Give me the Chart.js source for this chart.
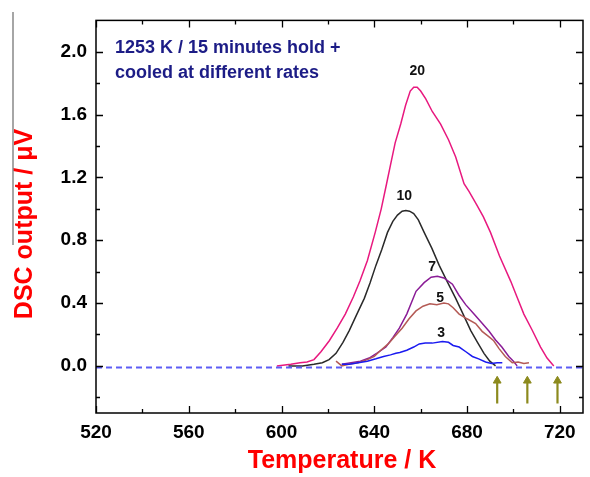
<!DOCTYPE html>
<html>
<head>
<meta charset="utf-8">
<script src="https://cdn.jsdelivr.net/npm/chart.js@4.4.1/dist/chart.umd.min.js"></script>
<style>
  html, body { margin: 0; padding: 0; background: #fff; }
</style>
</head>
<body>
<canvas id="dsc-chart" width="590" height="477"></canvas>
<script>
// DSC traces, one per cooling rate (K/min)
const rate20T = [598, 604, 608, 611, 614, 617, 620.6, 624, 627.5, 631, 633.8, 637, 640.4, 643, 645.3, 647, 649, 651.4, 653.5, 655.5, 657, 658.5, 660, 662.2, 665, 668.6, 672, 675.1, 678.7, 680.9, 684, 687, 690.1, 694, 698.8, 701.5, 704.5, 708, 711.7, 714.5, 717.4];
const rate20V = [0, 0.01, 0.02, 0.025, 0.04, 0.09, 0.16, 0.24, 0.33, 0.44, 0.54, 0.67, 0.85, 1.0, 1.16, 1.28, 1.42, 1.54, 1.66, 1.75, 1.775, 1.775, 1.75, 1.70, 1.62, 1.54, 1.44, 1.33, 1.16, 1.11, 1.03, 0.95, 0.85, 0.70, 0.54, 0.44, 0.33, 0.23, 0.12, 0.05, 0.0];

const rate10T = [603, 609, 614, 617.6, 620.5, 623.5, 626.5, 629.2, 632.5, 635.7, 638.2, 640.7, 643.2, 645.7, 648, 650, 652, 653.6, 655.2, 657, 659, 661.5, 664.8, 668, 671.5, 675.1, 678.3, 681.6, 684.5, 687.3, 689.8, 692.3];
const rate10V = [0, 0.0, 0.01, 0.02, 0.04, 0.08, 0.15, 0.225, 0.33, 0.43, 0.53, 0.64, 0.74, 0.85, 0.92, 0.96, 0.985, 0.99, 0.985, 0.97, 0.93, 0.85, 0.75, 0.64, 0.535, 0.43, 0.33, 0.225, 0.15, 0.08, 0.03, 0.0];

const rate7T = [626, 630, 634, 637.8, 641, 645, 648, 650.8, 654, 658, 661.5, 664.5, 667.2, 670, 673.7, 676.5, 679.4, 683, 686.6, 689.5, 692.3, 695, 698, 700, 701.6];
const rate7V = [0.01, 0.02, 0.03, 0.05, 0.08, 0.12, 0.18, 0.24, 0.33, 0.475, 0.53, 0.565, 0.57, 0.56, 0.52, 0.45, 0.39, 0.33, 0.27, 0.22, 0.165, 0.12, 0.06, 0.03, 0.0];

const rate5T = [623.5, 626, 629, 633, 637, 640, 642.8, 646, 649, 652, 655, 658, 661, 664, 667, 670, 672, 674, 676.6, 680, 683.7, 686.5, 689.5, 691.5, 693.8, 696.5, 699.5, 702, 704.5, 706.7];
const rate5V = [0.03, 0.0, 0.01, 0.02, 0.04, 0.06, 0.10, 0.14, 0.19, 0.24, 0.30, 0.35, 0.38, 0.395, 0.39, 0.40, 0.395, 0.37, 0.33, 0.30, 0.27, 0.22, 0.185, 0.16, 0.11, 0.06, 0.02, 0.025, 0.015, 0.02];

const rate3T = [626, 629.2, 633, 637, 640.7, 644, 647, 649.3, 651, 654, 657, 659.4, 662, 665, 669.4, 672, 674, 676.6, 679.5, 682.3, 685, 688, 690.5, 693, 695.2];
const rate3V = [0.01, 0.01, 0.02, 0.03, 0.045, 0.06, 0.07, 0.08, 0.085, 0.10, 0.12, 0.14, 0.145, 0.145, 0.155, 0.15, 0.13, 0.12, 0.09, 0.06, 0.045, 0.025, 0.015, 0.02, 0.02];

const baselineT = [520, 730];
const baselineV = [-0.01, -0.01];

// end-of-transformation arrows
const arrowT = [693, 706, 719];
const arrowBaseV = -0.24;
const arrowHeadV = -0.095;

const curveLabels = ['20', '10', '7', '5', '3'];
const labelT = [658.5, 652.9, 665, 668.4, 668.8];
const labelV = [1.88, 1.08, 0.63, 0.43, 0.21];

const xTicks = [520, 560, 600, 640, 680, 720];
const xMinor = [540, 580, 620, 660, 700];
const yTicks = [0.0, 0.4, 0.8, 1.2, 1.6, 2.0];
const yMinor = [-0.2, 0.2, 0.6, 1.0, 1.4, 1.8];

const FONT = '"Liberation Sans", Arial, sans-serif';

function pts(xs, ys) {
  return xs.map((x, i) => ({ x: x, y: ys[i] }));
}

function trace(xs, ys, color) {
  return {
    data: pts(xs, ys),
    borderColor: color,
    borderWidth: 1.5,
    pointRadius: 0,
    tension: 0,
    fill: false,
  };
}

const datasets = [
  {
    data: pts(baselineT, baselineV),
    borderColor: '#5d5df6',
    borderWidth: 2,
    borderDash: [6, 4],
    pointRadius: 0,
  },
  trace(rate3T, rate3V, '#1a1af0'),
  trace(rate5T, rate5V, '#b45a55'),
  trace(rate7T, rate7V, '#8a1c96'),
  trace(rate10T, rate10V, '#2a2a2a'),
  trace(rate20T, rate20V, '#e8197f'),
];

arrowT.forEach(t => {
  datasets.push({
    data: [{ x: t, y: arrowBaseV }, { x: t, y: arrowHeadV }],
    borderColor: '#8c8a1e',
    borderWidth: 2.2,
    pointRadius: [0, 4.5],
    pointStyle: 'triangle',
    pointBackgroundColor: '#8c8a1e',
    pointBorderColor: '#8c8a1e',
    pointBorderWidth: 1,
  });
});

// frame, inward ticks, curve labels, titles
const decorations = {
  id: 'decorations',
  afterDraw(chart) {
    const ctx = chart.ctx;
    const a = chart.chartArea;
    const xs = chart.scales.x;
    const ys = chart.scales.y;
    ctx.save();

    ctx.strokeStyle = '#000';
    ctx.lineWidth = 1.5;
    ctx.strokeRect(a.left, a.top, a.right - a.left, a.bottom - a.top);

    ctx.lineWidth = 1.3;
    ctx.beginPath();
    const tickX = (vals, len) => vals.forEach(v => {
      const p = Math.round(xs.getPixelForValue(v)) + 0.5;
      ctx.moveTo(p, a.bottom); ctx.lineTo(p, a.bottom - len);
      ctx.moveTo(p, a.top); ctx.lineTo(p, a.top + len);
    });
    const tickY = (vals, len) => vals.forEach(v => {
      const p = Math.round(ys.getPixelForValue(v)) + 0.5;
      ctx.moveTo(a.left, p); ctx.lineTo(a.left + len, p);
      ctx.moveTo(a.right, p); ctx.lineTo(a.right - len, p);
    });
    tickX(xTicks, 7); tickX(xMinor, 4);
    tickY(yTicks, 7); tickY(yMinor, 4);
    ctx.stroke();

    ctx.fillStyle = '#111';
    ctx.font = 'bold 14px ' + FONT;
    ctx.textAlign = 'center';
    ctx.textBaseline = 'middle';
    curveLabels.forEach((txt, i) => {
      ctx.fillText(txt, xs.getPixelForValue(labelT[i]), ys.getPixelForValue(labelV[i]));
    });

    ctx.fillStyle = '#1c1c86';
    ctx.font = 'bold 18px ' + FONT;
    ctx.textAlign = 'left';
    ctx.fillText('1253 K / 15 minutes hold +', a.left + 19, a.top + 28);
    ctx.fillText('cooled at different rates', a.left + 19, a.top + 53);

    ctx.fillStyle = '#ff0000';
    ctx.font = 'bold 25px ' + FONT;
    ctx.textAlign = 'center';
    ctx.fillText('Temperature / K', 342, 461);
    ctx.save();
    ctx.translate(25, 224);
    ctx.rotate(-Math.PI / 2);
    ctx.fillText('DSC output / \u03bcV', 0, 0);
    ctx.restore();

    ctx.strokeStyle = '#888';
    ctx.lineWidth = 1.5;
    ctx.beginPath();
    ctx.moveTo(13, 12); ctx.lineTo(13, 245);
    ctx.stroke();

    ctx.restore();
  }
};

new Chart(document.getElementById('dsc-chart'), {
  type: 'line',
  data: { datasets: datasets },
  options: {
    responsive: false,
    animation: false,
    layout: { padding: { top: 13, right: 7, left: 0, bottom: 0 } },
    plugins: { legend: { display: false }, tooltip: { enabled: false } },
    scales: {
      x: {
        type: 'linear',
        min: 520,
        max: 730,
        afterBuildTicks: s => { s.ticks = xTicks.map(v => ({ value: v })); },
        afterFit: s => { s.height = 64; },
        grid: { display: false, drawTicks: false },
        border: { display: false },
        ticks: {
          padding: 8,
          color: '#000',
          font: { family: FONT, size: 19, weight: 'bold' },
          maxRotation: 0,
          callback: v => String(v),
        },
      },
      y: {
        type: 'linear',
        min: -0.3,
        max: 2.2,
        afterBuildTicks: s => { s.ticks = yTicks.map(v => ({ value: v })); },
        afterFit: s => { s.width = 96; },
        grid: { display: false, drawTicks: false },
        border: { display: false },
        ticks: {
          padding: 9,
          color: '#000',
          font: { family: FONT, size: 19, weight: 'bold' },
          callback: v => Number(v).toFixed(1),
        },
      },
    },
  },
  plugins: [decorations],
});
</script>
</body>
</html>
